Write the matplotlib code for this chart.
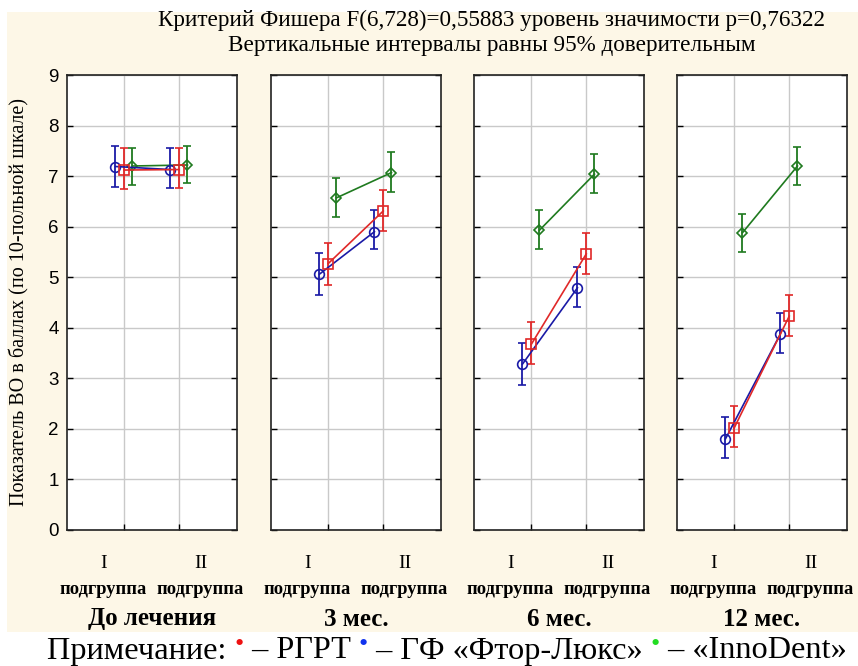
import matplotlib
matplotlib.use("Agg")
import matplotlib.pyplot as plt
from matplotlib.patches import Rectangle

periods = ['До лечения', '3 мес.', '6 мес.', '12 мес.']
subgroups = ['I', 'II']
sub_word = 'подгруппа'

series_names = ['РГРТ', 'ГФ «Фтор-Люкс»', '«InnoDent»']

# means / 95% CI bounds, per period: [I, II]
red_mean = [[7.12, 7.13], [5.27, 6.31], [3.67, 5.46], [2.02, 4.23]]
red_low = [[6.74, 6.76], [4.85, 5.91], [3.28, 5.06], [1.64, 3.84]]
red_high = [[7.55, 7.55], [5.68, 6.72], [4.12, 5.87], [2.46, 4.65]]

blue_mean = [[7.19, 7.13], [5.06, 5.90], [3.28, 4.79], [1.80, 3.88]]
blue_low = [[6.78, 6.76], [4.65, 5.55], [2.87, 4.42], [1.42, 3.51]]
blue_high = [[7.60, 7.55], [5.47, 6.32], [3.69, 5.21], [2.24, 4.29]]

green_mean = [[7.20, 7.22], [6.57, 7.07], [5.93, 7.04], [5.88, 7.20]]
green_low = [[6.82, 6.86], [6.20, 6.69], [5.55, 6.66], [5.49, 6.82]]
green_high = [[7.56, 7.60], [6.97, 7.47], [6.33, 7.43], [6.26, 7.57]]

yticks = [0, 1, 2, 3, 4, 5, 6, 7, 8, 9]

title1 = 'Критерий Фишера F(6,728)=0,55883 уровень значимости p=0,76322'
title2 = 'Вертикальные интервалы равны 95% доверительным'
ylabel = 'Показатель ВО в баллах (по 10-польной шкале)'
note_lead = 'Примечание: '

SERIF = ['Liberation Serif', 'DejaVu Serif']
SANS = ['Liberation Sans', 'DejaVu Sans']

W, H = 858, 666
fig = plt.figure(figsize=(W / 100, H / 100), dpi=100)
fig.patch.set_facecolor('white')

# cream page background
fig.patches.append(Rectangle((7 / W, 1 - 632 / H), 1 - 7 / W, (632 - 12) / H,
                             transform=fig.transFigure, facecolor='#fdf7e7',
                             edgecolor='none', zorder=-10))

styles = [
    # (mean, low, high, color, marker, offset, markersize)
    (green_mean, green_low, green_high, '#1f7a1f', 'D', 0.15, 5.5),
    (blue_mean, blue_low, blue_high, '#1a1aa6', 'o', -0.16, 7.0),
    (red_mean, red_low, red_high, '#e02828', 's', 0.0, 6.5),
]

lefts = [67, 271, 474, 677]
ax_w = 170
top_px, bot_px = 75, 530
axes = []
for i, per in enumerate(periods):
    ax = fig.add_axes([lefts[i] / W, 1 - bot_px / H, ax_w / W, (bot_px - top_px) / H])
    ax.set_facecolor('white')
    ax.set_xlim(-1.04, 2.05)
    ax.set_ylim(0, 9)
    ax.set_yticks(yticks)
    ax.set_xticks([0, 1])
    ax.grid(True, color='#c9c9c9', linewidth=1.0)
    ax.set_axisbelow(True)
    ax.tick_params(axis='y', direction='in', left=True, right=True, length=4,
                   width=1.0, labelsize=13.5, pad=6)
    ax.tick_params(axis='x', direction='in', bottom=True, top=False, length=4,
                   width=1.0, labelbottom=False)
    for sp in ax.spines.values():
        sp.set_linewidth(1.2)
        sp.set_color('#222222')
    if i == 0:
        for lab in ax.get_yticklabels():
            lab.set_fontfamily(SANS)
    else:
        ax.set_yticklabels([])

    for mean, low, high, col, mk, off, ms in styles:
        xs = [0 + off, 1 + off]
        ys = mean[i]
        lo = [ys[k] - low[i][k] for k in range(2)]
        hi = [high[i][k] - ys[k] for k in range(2)]
        ax.errorbar(xs, ys, yerr=[lo, hi], color=col, ecolor=col,
                    marker=mk, markersize=ms, markerfacecolor='none',
                    markeredgewidth=1.2, linewidth=1.2, elinewidth=1.3,
                    capsize=3.2, capthick=1.3)

    # subgroup labels
    for k, sg in enumerate(subgroups):
        xf = 0.5 + (-0.285 if k == 0 else 0.285)
        ax.text(xf, -(564 - bot_px) / (bot_px - top_px), sg, transform=ax.transAxes,
                ha='center', va='center', fontsize=14, fontfamily=SERIF)
        ax.text(xf, -(590 - bot_px) / (bot_px - top_px), sub_word, transform=ax.transAxes,
                ha='center', va='center', fontsize=13.3, fontfamily=SERIF,
                fontweight='bold')
    ax.text(0.5, -(619 - bot_px) / (bot_px - top_px), per, transform=ax.transAxes,
            ha='center', va='center', fontsize=18, fontfamily=SERIF,
            fontweight='bold')
    axes.append(ax)

fig.text(0.5 + 63 / W, 1 - 20 / H, title1, ha='center', va='center',
         fontsize=16.7, fontfamily=SERIF)
fig.text(0.5 + 63 / W, 1 - 46 / H, title2, ha='center', va='center',
         fontsize=16.7, fontfamily=SERIF)
fig.text(19 / W, 1 - 302 / H, ylabel, rotation=90, ha='center', va='center',
         fontsize=14.5, fontfamily=SERIF)

# note line with coloured bullets
fig.canvas.draw()
renderer = fig.canvas.get_renderer()
pieces = [
    (note_lead, 'black', 23.3, 0),
    ('•', '#ee1111', 19, 6),
    (' – ' + series_names[0] + ' ', 'black', 23.3, 0),
    ('•', '#1133ee', 19, 6),
    (' – ' + series_names[1] + ' ', 'black', 23.3, 0),
    ('•', '#22dd22', 19, 6),
    (' – ' + series_names[2], 'black', 23.3, 0),
]
x_px = 47
y_px = 651
for s, col, fs, rise in pieces:
    t = fig.text(x_px / W, 1 - (y_px - rise) / H, s, ha='left', va='center',
                 fontsize=fs, color=col, fontfamily=SERIF)
    bb = t.get_window_extent(renderer)
    x_px += bb.width

fig.savefig('out.png', dpi=100)
